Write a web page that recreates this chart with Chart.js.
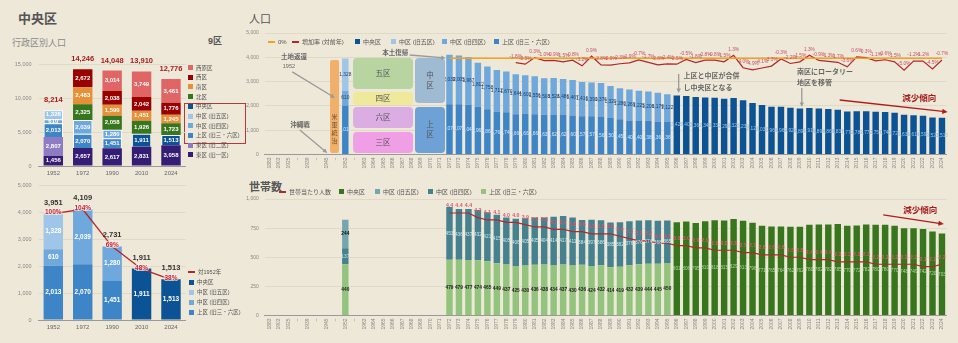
<!DOCTYPE html>
<html lang="ja">
<head>
<meta charset="utf-8">
<title>中央区 人口・世帯数</title>
<script src="https://cdn.jsdelivr.net/npm/chart.js@4.4.1/dist/chart.umd.min.js"></script>
<style>
  html,body{margin:0;padding:0}
  body{width:958px;height:343px;background:#eee8d8;position:relative;overflow:hidden;
       font-family:'Liberation Sans','Noto Sans CJK JP',sans-serif;color:#555}
  canvas{position:absolute;display:block}
  .txt{position:absolute;white-space:nowrap;line-height:1}
  .lg{position:absolute;white-space:nowrap;line-height:1;color:#555}
  .sq{display:inline-block;vertical-align:middle}
</style>
</head>
<body>
<div class="txt" style="left:18px;top:12px;font-size:13px;font-weight:bold;color:#555">中央区</div>
<div class="txt" style="left:12px;top:39px;font-size:9px;color:#8a8a8a">行政区別人口</div>
<div class="txt" style="left:208px;top:37px;font-size:9px;font-weight:bold;color:#555">9区</div>
<div class="txt" style="left:249px;top:14px;font-size:11px;color:#555">人口</div>
<div class="txt" style="left:249px;top:182px;font-size:11px;font-weight:bold;color:#555">世帯数</div>
<div style="position:absolute;left:184px;top:103px;width:60px;height:39px;border:1px solid #b33a3a"></div>

<canvas id="wardChart" width="250" height="130" style="left:0;top:50px"></canvas>
<canvas id="kyuChart" width="250" height="168" style="left:0;top:175px"></canvas>
<canvas id="popChart" width="728" height="180" style="left:230px;top:0"></canvas>
<canvas id="hhChart" width="728" height="163" style="left:230px;top:180px"></canvas>

<script>
// ---- 行政区別人口 (単位：人) ----
const wardYears   = ['1952', '1972', '1990', '2010', '2024'];
const higashi1    = [1456, 2657, 2617, 2831, 3058];   // 東区 (旧一区)
const higashi2    = [2807, null, null, null, null];   // 東区 (旧二区)
const kamiku      = [2013, 2070, 1451, null, null];   // 上区 (旧三・六区)
const nakaku4     = [610, 2039, 1280, null, null];    // 中区 (旧四区)
const nakaku5     = [1328, null, null, null, null];   // 中区 (旧五区)
const chuoku      = [null, null, null, 1911, 1513];   // 中央区
const kitaku      = [null, 2325, 2058, 1926, 1723];
const minamiku    = [null, 2483, 1590, 1451, 1245];
const nishiku     = [null, 2672, 2038, 2042, 1776];
const nishiharaku = [null, null, 3014, 3749, 3461];
const wardTotals  = [8214, 14246, 14048, 13910, 12776];

// 現中央区エリアの合計と 1952 年比
const kyuTotals   = [3951, 4109, 2731, 1911, 1513];
const ratioTo1952 = [100, 104, 69, 48, 38];

// ---- 年次推移の横軸 ----
const yearLabels = ['1883','1903','1925','~','1939','~','1945','~','1952','~',
  '1963','1964','1965','1966','1967','1968','1969','1970','1971','1972','1973','1974',
  '1975','1976','1977','1978','1979','1980','1981','1982','1983','1984','1985','1986',
  '1987','1988','1989','1990','1991','1992','1993','1994','1995','1996','1997','1998',
  '1999','2000','2001','2002','2003','2004','2005','2006','2007','2008','2009','2010',
  '2011','2012','2013','2014','2015','2016','2017','2018','2019','2020','2021','2022',
  '2023','2024'];

// 人口：1952 年 [上区, 中区(旧四区), 中区(旧五区)]
const pop1952 = [2013, 610, 1328];
// 1972–1995
const popKami7295 = [2070, 2072, 2049, 1963, 1861, 1761, 1741, 1661, 1662, 1661, 1635, 1621,
  1621, 1601, 1571, 1571, 1563, 1502, 1451, 1401, 1401, 1384, 1363, 1360];
const popNaka7295 = [2039, 2005, 1967, 1812, 1758, 1712, 1670, 1644, 1602, 1556, 1508, 1528,
  1486, 1467, 1416, 1390, 1376, 1320, 1280, 1269, 1225, 1206, 1179, 1122];
// 1996–2024 中央区
const popChuo9624 = [2425, 2405, 2362, 2344, 2331, 2296, 2326, 2233, 2124, 2037, 1969, 1963,
  1920, 1891, 1911, 1894, 1869, 1837, 1771, 1782, 1777, 1757, 1746, 1720, 1634, 1614, 1595,
  1523, 1513];
// 増加率 (対前年, %) 1979–2024
const rate7924 = [-1.8, -2.5, 0.3, -1.0, -0.9, -1.5, -0.8, -3.2, 0.9, -2.8, -2.9, -2.3, -1.9,
  -0.7, -1.7, -2.8, -2.4, -2.5, -0.5, -1.8, -0.8, -0.8, -1.5, 1.3, -4.0, -4.9, -4.1, -3.3,
  -0.3, -2.2, -1.5, 1.3, -0.9, -1.3, -1.7, -3.6, 0.6, 0.3, -1.1, -0.6, -1.5, -5.0, -1.2,
  -1.2, -4.5, -0.7];

// 世帯数：1952 年 [上区, 中区(旧四区), 中区(旧五区)]
const hh1952 = [440, 137, 244];
const hhKami7295 = [479, 479, 477, 474, 465, 449, 437, 425, 430, 436, 438, 434, 437, 430, 436,
  424, 432, 414, 419, 432, 439, 444, 445, 450];
const hhNaka7295 = [453, 436, 437, 432, 421, 415, 405, 406, 405, 405, 404, 414, 417, 411, 384,
  397, 386, 385, 382, 376, 376, 374, 368, 365];
const hhChuo9624 = [801, 806, 795, 810, 818, 815, 829, 813, 796, 771, 765, 764, 762, 762, 780,
  782, 782, 785, 770, 772, 782, 780, 780, 770, 748, 749, 742, 720, 703];
// 世帯当たり人数 1972–2024
const perHh7224 = [4.4, 4.4, 4.4, 4.2, 4.1, 4.1, 4.0, 4.0, 3.9, 3.8, 3.8, 3.7, 3.7, 3.6, 3.6,
  3.5, 3.5, 3.5, 3.4, 3.3, 3.2, 3.2, 3.1, 3.1, 3.0, 3.0, 2.9, 2.9, 2.8, 2.8, 2.8, 2.7, 2.7,
  2.6, 2.6, 2.6, 2.5, 2.5, 2.4, 2.4, 2.4, 2.3, 2.3, 2.3, 2.3, 2.2, 2.2, 2.2, 2.2, 2.2, 2.1,
  2.1, 2.2];

// ---- 色 ----
const C = {
  higashi1: '#351c75', higashi2: '#8e7cc3', kami: '#3d85c6', naka4: '#6fa8dc', naka5: '#9fc5e8',
  chuo: '#0b5394', kita: '#38761d', minami: '#e69138', nishi: '#990000', nishihara: '#e06666',
  hhKami: '#93c47d', hhNaka4: '#45818e', hhNaka5: '#76a5af', hhChuo: '#38761d',
  rate: '#b3262b', zero: '#f6a21f', grid: '#e0d9c7'
};
const FONT = "'Liberation Sans','Noto Sans CJK JP',sans-serif";
Chart.defaults.font.family = FONT;
Chart.defaults.color = '#777';

// 年次配列 (72 区分) へ展開
const IDX1952 = yearLabels.indexOf('1952');
const IDX1972 = yearLabels.indexOf('1972');
const IDX1996 = yearLabels.indexOf('1996');
const IDX1979 = yearLabels.indexOf('1979');
function series(parts) {
  const out = new Array(yearLabels.length).fill(null);
  parts.forEach(([start, vals]) => vals.forEach((v, k) => { out[start + k] = v; }));
  return out;
}
const popKamiAll = series([[IDX1952, [pop1952[0]]], [IDX1972, popKami7295]]);
const popNaka4All = series([[IDX1952, [pop1952[1]]], [IDX1972, popNaka7295]]);
const popNaka5All = series([[IDX1952, [pop1952[2]]]]);
const popChuoAll = series([[IDX1996, popChuo9624]]);
const rateAll = series([[IDX1979, rate7924]]);
const zeroAll = series([[IDX1972, new Array(yearLabels.length - IDX1972).fill(0)]]);
const hhKamiAll = series([[IDX1952, [hh1952[0]]], [IDX1972, hhKami7295]]);
const hhNaka4All = series([[IDX1952, [hh1952[1]]], [IDX1972, hhNaka7295]]);
const hhNaka5All = series([[IDX1952, [hh1952[2]]]]);
const hhChuoAll = series([[IDX1996, hhChuo9624]]);
const perHhAll = series([[IDX1972, perHh7224]]);

const comma = v => Number(v).toLocaleString('en-US');

// 棒の中央・線の上に値を描くプラグイン
const valueLabels = {
  id: 'valueLabels',
  afterDatasetsDraw(chart) {
    const ctx = chart.ctx;
    chart.data.datasets.forEach((ds, i) => {
      const lab = ds.valueLabel;
      if (!lab) return;
      const meta = chart.getDatasetMeta(i);
      ctx.save();
      ctx.font = lab.font;
      ctx.fillStyle = lab.color;
      ctx.textAlign = 'center';
      ctx.textBaseline = 'middle';
      meta.data.forEach((el, j) => {
        const v = ds.data[j];
        if (v === null || v === undefined) return;
        let x, y;
        if (meta.type === 'bar') {
          const p = el.getProps(['x', 'y', 'base'], true);
          x = p.x; y = (p.y + p.base) / 2;
        } else {
          x = el.x; y = el.y + (lab.dy || 0);
        }
        const s = lab.fmt(v);
        if (lab.halo) {
          ctx.lineWidth = 2; ctx.strokeStyle = lab.halo; ctx.strokeText(s, x, y);
        }
        ctx.fillText(s, x, y);
      });
      ctx.restore();
    });
  }
};

// 積み上げ合計を棒の上に描く
function totalsPlugin(totals, color, font, gap) {
  return {
    id: 'totals',
    afterDatasetsDraw(chart) {
      const ctx = chart.ctx, xs = chart.scales.x, ys = chart.scales.y;
      ctx.save();
      ctx.font = font; ctx.fillStyle = color;
      ctx.textAlign = 'center'; ctx.textBaseline = 'middle';
      totals.forEach((t, i) => ctx.fillText(comma(t), xs.getPixelForValue(i), ys.getPixelForValue(t) - gap));
      ctx.restore();
    }
  };
}

// 区分番号と値の座標で注記 (枠・文字・矢印) を描く
function notesPlugin(notes) {
  return {
    id: 'notes',
    afterDatasetsDraw(chart) {
      const ctx = chart.ctx, xs = chart.scales.x, ys = chart.scales.y;
      const x0p = xs.getPixelForValue(0), step = xs.getPixelForValue(1) - x0p;
      const px = i => x0p + i * step;
      const py = v => ys.getPixelForValue(v);
      notes.forEach(n => {
        ctx.save();
        if (n.type === 'box') {
          const a = px(n.x0), b = px(n.x1), t = py(n.y0), u = py(n.y1);
          ctx.fillStyle = n.fill;
          ctx.beginPath(); ctx.roundRect(a, t, b - a, u - t, n.r ?? 4); ctx.fill();
          ctx.fillStyle = n.color || '#555';
          ctx.font = n.font || `7.5px ${FONT}`;
          ctx.textAlign = 'center'; ctx.textBaseline = 'middle';
          if (n.text) ctx.fillText(n.text, (a + b) / 2, (t + u) / 2);
          if (n.vtext) {
            const chars = [...n.vtext], lh = n.lh || 10;
            const cy = n.ty !== undefined ? py(n.ty) : (t + u) / 2;
            chars.forEach((ch, k) => ctx.fillText(ch, (a + b) / 2, cy + (k - (chars.length - 1) / 2) * lh));
          }
        } else if (n.type === 'text') {
          ctx.fillStyle = n.color || '#666';
          ctx.font = n.font || `bold 6.5px ${FONT}`;
          ctx.textAlign = n.align || 'left'; ctx.textBaseline = 'middle';
          ctx.fillText(n.text, px(n.x), py(n.y));
        } else if (n.type === 'arrow') {
          const ax = px(n.x0), ay = py(n.y0), bx = px(n.x1), by = py(n.y1);
          const col = n.color || '#9a9a9a';
          ctx.strokeStyle = col; ctx.fillStyle = col; ctx.lineWidth = n.w || 1.3;
          const ang = Math.atan2(by - ay, bx - ax), hs = n.head || 5;
          ctx.beginPath(); ctx.moveTo(ax, ay);
          ctx.lineTo(bx - Math.cos(ang) * hs * 0.8, by - Math.sin(ang) * hs * 0.8); ctx.stroke();
          ctx.beginPath(); ctx.moveTo(bx, by);
          ctx.lineTo(bx - hs * Math.cos(ang - 0.45), by - hs * Math.sin(ang - 0.45));
          ctx.lineTo(bx - hs * Math.cos(ang + 0.45), by - hs * Math.sin(ang + 0.45));
          ctx.closePath(); ctx.fill();
        }
        ctx.restore();
      });
    }
  };
}

const baseOpts = (padding) => ({
  responsive: false, animation: false, devicePixelRatio: 1,
  layout: { padding },
  plugins: { legend: { display: false }, tooltip: { enabled: false } }
});

// ================= 行政区別人口 =================
const whiteLab = { font: `bold 6px ${FONT}`, color: '#ffffff', fmt: comma };
function wardSet(label, data, color, outlined) {
  return { label, data, backgroundColor: color, borderColor: outlined ? '#ffffff' : color,
    borderWidth: outlined ? 1 : 0, barPercentage: 0.66, categoryPercentage: 1, valueLabel: whiteLab };
}
const xSmallAxis = (h) => ({
  stacked: true, grid: { display: false, drawTicks: false }, border: { color: '#999' },
  ticks: { color: '#666', font: { size: 6 }, padding: 4 },
  afterFit: s => { s.height = h; }
});
new Chart(document.getElementById('wardChart'), {
  type: 'bar',
  data: {
    labels: wardYears,
    datasets: [
      wardSet('東区 (旧一区)', higashi1, C.higashi1),
      wardSet('東区 (旧二区)', higashi2, C.higashi2),
      wardSet('上区 (旧三・六区)', kamiku, C.kami, true),
      wardSet('中区 (旧四区)', nakaku4, C.naka4, true),
      wardSet('中区 (旧五区)', nakaku5, C.naka5, true),
      wardSet('中央区', chuoku, C.chuo, true),
      wardSet('北区', kitaku, C.kita),
      wardSet('南区', minamiku, C.minami),
      wardSet('西区', nishiku, C.nishi),
      wardSet('西原区', nishiharaku, C.nishihara)
    ]
  },
  options: {
    ...baseOpts({ top: 14, right: 64.3, left: 0, bottom: 0 }),
    scales: {
      x: xSmallAxis(14),
      y: { stacked: true, min: 0, max: 15000,
           ticks: { stepSize: 5000, color: '#888', font: { size: 5.5 }, padding: 7, callback: v => comma(v) },
           grid: { color: C.grid, drawTicks: false }, border: { display: false },
           afterFit: s => { s.width = 38.6; } }
    }
  },
  plugins: [valueLabels, totalsPlugin(wardTotals, '#a61c1c', `bold 7.5px ${FONT}`, 10)]
});

// ================= 現中央区エリアの推移 =================
new Chart(document.getElementById('kyuChart'), {
  type: 'bar',
  data: {
    labels: wardYears,
    datasets: [
      { type: 'line', label: '対1952年', data: ratioTo1952, yAxisID: 'yr', borderColor: '#b3262b',
        borderWidth: 1.3, pointRadius: 0, order: 0,
        valueLabel: { font: `bold 6.5px ${FONT}`, color: '#c0282d', fmt: v => v + '%', dy: -1, halo: 'rgba(255,240,240,0.7)' } },
      wardSet('上区 (旧三・六区)', kamiku, C.kami),
      wardSet('中区 (旧四区)', nakaku4, C.naka4),
      wardSet('中区 (旧五区)', nakaku5, C.naka5),
      wardSet('中央区', chuoku, C.chuo)
    ].map(d => d.type ? d : { ...d, order: 1, valueLabel: { font: `bold 6.5px ${FONT}`, color: '#ffffff', fmt: comma } })
  },
  options: {
    ...baseOpts({ top: 6, right: 64.3, left: 0, bottom: 0 }),
    scales: {
      x: xSmallAxis(23),
      y: { stacked: true, min: 0, max: 5000,
           ticks: { stepSize: 1000, color: '#888', font: { size: 5.5 }, padding: 7, callback: v => comma(v) },
           grid: { color: C.grid, drawTicks: false }, border: { display: false },
           afterFit: s => { s.width = 38.6; } },
      yr: { display: false, min: 0, max: 100 * 5000 / kyuTotals[0] }
    }
  },
  plugins: [valueLabels, totalsPlugin(kyuTotals, '#333333', `bold 7.5px ${FONT}`, 11)]
});

// ================= 人口 (年次) =================
const tickFont = { size: 5 };
const xTimeAxis = (h) => ({
  stacked: true, grid: { display: false, drawTicks: false }, border: { color: '#999' },
  ticks: { color: '#888', font: tickFont, autoSkip: false, maxRotation: 90, minRotation: 90, padding: 3 },
  afterFit: s => { s.height = h; }
});
const popSet = (label, data, color, labColor) => ({
  label, data, backgroundColor: color, barPercentage: 0.68, categoryPercentage: 1, order: 1,
  valueLabel: { font: `4.8px ${FONT}`, color: labColor, fmt: comma }
});
const popNotes = [
  { type: 'box', x0: 6.39, x1: 7.34, y0: 3890, y1: 60, fill: '#f1b06a', vtext: '米軍統治', ty: 1050, lh: 8,
    color: '#6b4a2a', font: `6px ${FONT}`, r: 2 },
  { type: 'box', x0: 8.82, x1: 15.15, y0: 3971, y1: 2695, fill: '#b7d4a1', text: '五区' },
  { type: 'box', x0: 8.82, x1: 15.15, y0: 2572, y1: 2037, fill: '#efe99c', text: '四区' },
  { type: 'box', x0: 8.82, x1: 15.15, y0: 1955, y1: 1091, fill: '#dcade2', text: '六区' },
  { type: 'box', x0: 8.82, x1: 15.15, y0: 926, y1: 62, fill: '#f09fe6', text: '三区' },
  { type: 'box', x0: 15.36, x1: 18.53, y0: 3971, y1: 2119, fill: '#9fbad3', vtext: '中区', lh: 10 },
  { type: 'box', x0: 15.36, x1: 18.53, y0: 1955, y1: 62, fill: '#6ea2d6', vtext: '上区', lh: 10 },
  { type: 'text', text: '土地返還', x: 1.2, y: 4012, font: `bold 6.5px ${FONT}` },
  { type: 'text', text: '1952', x: 1.4, y: 3642, font: `5.5px ${FONT}` },
  { type: 'arrow', x0: 2.4, y0: 3400, x1: 6.9, y1: 2330 },
  { type: 'text', text: '本土復帰', x: 11.9, y: 4177, font: `bold 6.5px ${FONT}` },
  { type: 'arrow', x0: 14.8, y0: 4095, x1: 18.6, y1: 3971 },
  { type: 'text', text: '沖縄戦', x: 2.2, y: 1214, font: `bold 6.5px ${FONT}` },
  { type: 'arrow', x0: 3.2, y0: 1008, x1: 6.1, y1: 62 },
  { type: 'text', text: '上区と中区が合併', x: 43.7, y: 3230, font: `bold 7px ${FONT}` },
  { type: 'text', text: 'し中央区となる', x: 43.7, y: 2737, font: `bold 7px ${FONT}` },
  { type: 'arrow', x0: 43.2, y0: 3313, x1: 43.2, y1: 2531 },
  { type: 'text', text: '南区にロータリー', x: 55.7, y: 3395, font: `bold 7px ${FONT}` },
  { type: 'text', text: '地区を移管', x: 55.7, y: 2942, font: `bold 7px ${FONT}` },
  { type: 'arrow', x0: 56.2, y0: 2737, x1: 56.2, y1: 1955 },
  { type: 'text', text: '減少傾向', x: 68.6, y: 2300, align: 'center', color: '#a61c1c', font: `bold 8.5px ${FONT}` },
  { type: 'arrow', x0: 60.2, y0: 2243, x1: 71.6, y1: 1749, color: '#b01c1c', head: 6 }
];
new Chart(document.getElementById('popChart'), {
  type: 'bar',
  data: {
    labels: yearLabels,
    datasets: [
      { type: 'line', label: '0%', data: zeroAll, yAxisID: 'yRate', borderColor: C.zero,
        borderWidth: 1.5, pointRadius: 0, order: 0 },
      { type: 'line', label: '増加率 (対前年)', data: rateAll, yAxisID: 'yRate', borderColor: C.rate,
        borderWidth: 1.2, pointRadius: 0, order: 0,
        valueLabel: { font: `4.8px ${FONT}`, color: '#c4506a', fmt: v => v.toFixed(1) + '%', dy: -6 } },
      popSet('上区 (旧三・六区)', popKamiAll, C.kami, '#d6e7f7'),
      popSet('中区 (旧四区)', popNaka4All, C.naka4, '#1d3e6e'),
      popSet('中区 (旧五区)', popNaka5All, C.naka5, '#1d3e6e'),
      popSet('中央区', popChuoAll, C.chuo, '#9fc5e8')
    ]
  },
  options: {
    ...baseOpts({ top: 33, right: 11.3, left: 0, bottom: 0 }),
    scales: {
      x: xTimeAxis(25.5),
      y: { stacked: true, min: 0, max: 5000,
           ticks: { stepSize: 1000, color: '#888', font: { size: 5 }, padding: 6 },
           grid: { color: C.grid, drawTicks: false }, border: { display: false },
           afterFit: s => { s.width = 34.8; } },
      yRate: { display: false, min: -40.9, max: 10.77 }
    }
  },
  plugins: [valueLabels, notesPlugin(popNotes)]
});

// ================= 世帯数 (年次) =================
const hhSet = (label, data, color, labColor, bold) => ({
  label, data, backgroundColor: color, barPercentage: 0.68, categoryPercentage: 1, order: 1,
  valueLabel: { font: `${bold ? 'bold ' : ''}4.8px ${FONT}`, color: labColor, fmt: v => String(v) }
});
const hhNotes = [
  { type: 'text', text: '減少傾向', x: 68.7, y: 900, align: 'center', color: '#a61c1c', font: `bold 8.5px ${FONT}` },
  { type: 'arrow', x0: 64.8, y0: 863, x1: 71.2, y1: 785, color: '#b01c1c', head: 6 }
];
new Chart(document.getElementById('hhChart'), {
  type: 'bar',
  data: {
    labels: yearLabels,
    datasets: [
      { type: 'line', label: '世帯当たり人数', data: perHhAll, yAxisID: 'yPer', borderColor: C.rate,
        borderWidth: 1.2, pointRadius: 0, order: 0,
        valueLabel: { font: `bold 5.2px ${FONT}`, color: '#d9566b', fmt: v => v.toFixed(1), dy: -7 } },
      hhSet('上区 (旧三・六区)', hhKamiAll, C.hhKami, '#1e1e1e', true),
      hhSet('中区 (旧四区)', hhNaka4All, C.hhNaka4, '#d3e8ec'),
      hhSet('中区 (旧五区)', hhNaka5All, C.hhNaka5, '#111111', true),
      hhSet('中央区', hhChuoAll, C.hhChuo, '#b6d7a8')
    ]
  },
  options: {
    ...baseOpts({ top: 19, right: 11.3, left: 0, bottom: 0 }),
    scales: {
      x: xTimeAxis(27.5),
      y: { stacked: true, min: 0, max: 1000,
           ticks: { stepSize: 250, color: '#888', font: { size: 5 }, padding: 6 },
           grid: { color: C.grid, drawTicks: false }, border: { display: false },
           afterFit: s => { s.width = 34.8; } },
      yPer: { display: false, min: 0, max: 5 }
    }
  },
  plugins: [valueLabels, notesPlugin(hhNotes)]
});

// ---- 凡例 (HTML) ----
function legendItem(x, y, kind, color, text, size) {
  const d = document.createElement('div');
  d.className = 'lg';
  d.style.left = x + 'px';
  d.style.top = (y - size / 2) + 'px';
  d.style.fontSize = size + 'px';
  const m = document.createElement('span');
  m.className = 'sq';
  if (kind === 'line') { m.style.width = '7px'; m.style.height = '2px'; }
  else { m.style.width = '5px'; m.style.height = '5px'; }
  m.style.background = color;
  m.style.marginRight = '3px';
  m.style.marginTop = '-1px';
  d.appendChild(m);
  d.appendChild(document.createTextNode(text));
  document.body.appendChild(d);
}
[
  ['西原区', C.nishihara], ['西区', C.nishi], ['南区', C.minami], ['北区', C.kita],
  ['中央区', C.chuo], ['中区 (旧五区)', C.naka5], ['中区 (旧四区)', C.naka4],
  ['上区 (旧三・六区)', C.kami], ['東区 (旧二区)', C.higashi2], ['東区 (旧一区)', C.higashi1]
].forEach(([t, c], k) => legendItem(188, 68.3 + k * 9.7, 'sq', c, t, 5.5));
legendItem(188, 273, 'line', '#b3262b', '対1952年', 5.5);
[['中央区', C.chuo], ['中区 (旧五区)', C.naka5], ['中区 (旧四区)', C.naka4], ['上区 (旧三・六区)', C.kami]]
  .forEach(([t, c], k) => legendItem(189, 283 + k * 10, 'sq', c, t, 5.5));

[[268, 'line', C.zero, '0%'], [292, 'line', C.rate, '増加率 (対前年)'], [355, 'sq', C.chuo, '中央区'],
 [391, 'sq', C.naka5, '中区 (旧五区)'], [442, 'sq', C.naka4, '中区 (旧四区)'], [494, 'sq', C.kami, '上区 (旧三・六区)']]
  .forEach(([x, k, c, t]) => legendItem(x, 42, k, c, t, 6));
[[279, 'line', C.rate, '世帯当たり人数'], [339, 'sq', C.hhChuo, '中央区'], [375, 'sq', C.hhNaka5, '中区 (旧五区)'],
 [428, 'sq', C.hhNaka4, '中区 (旧四区)'], [481, 'sq', C.hhKami, '上区 (旧三・六区)']]
  .forEach(([x, k, c, t]) => legendItem(x, 192, k, c, t, 6));
</script>
</body>
</html>
